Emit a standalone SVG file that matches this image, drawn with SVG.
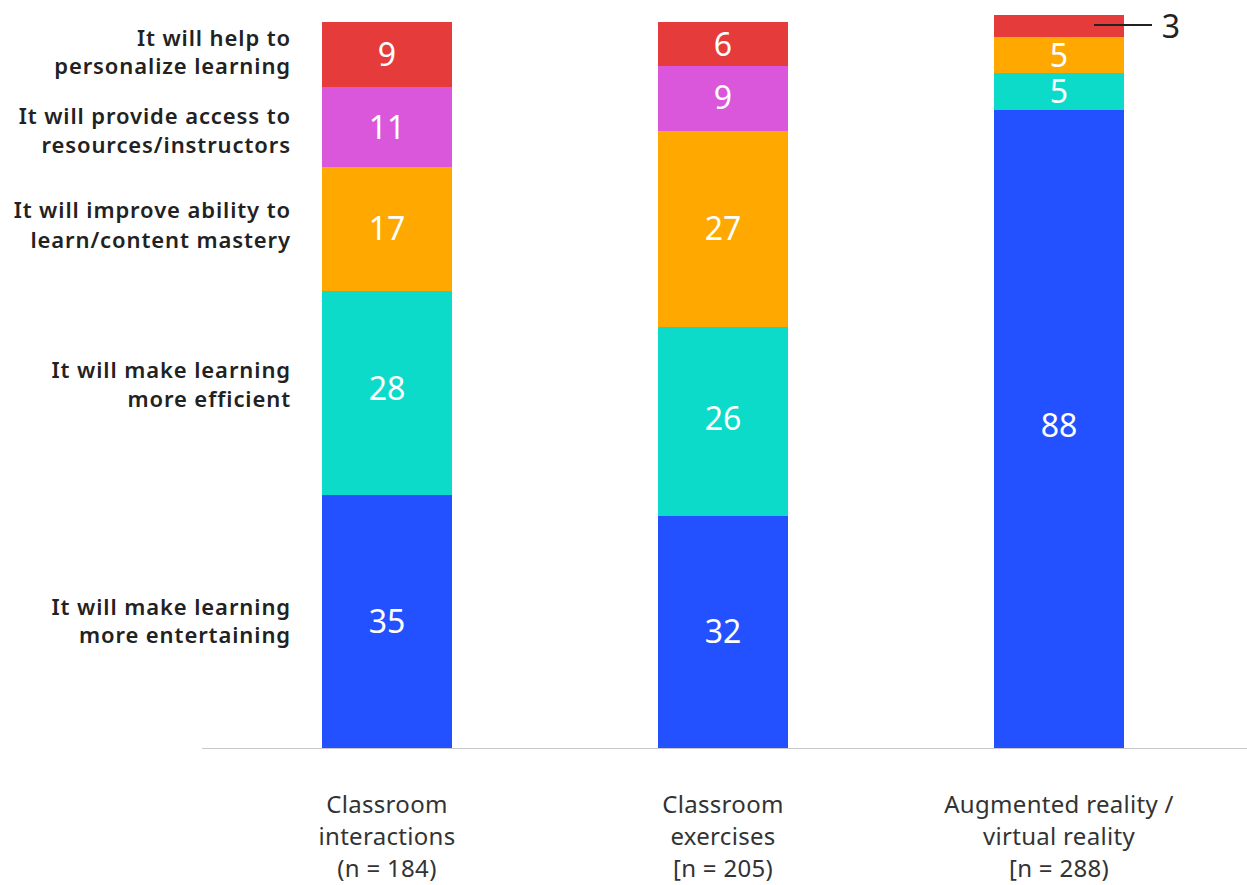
<svg xmlns="http://www.w3.org/2000/svg" width="1247" height="885" viewBox="0 0 1247 885">
<style>
.leg{font-family:"Noto Sans","Open Sans",sans-serif;font-weight:600;font-size:22px;letter-spacing:0.9px;fill:#222;text-anchor:end}
.val{font-family:"Noto Sans","Open Sans",sans-serif;font-size:32px;fill:#fff;text-anchor:middle}
.cat{font-family:"Noto Sans","Open Sans",sans-serif;font-size:24px;letter-spacing:0.3px;fill:#333;text-anchor:middle}
.r{fill:#E53B3B}.m{fill:#DA56DB}.o{fill:#FFA800}.t{fill:#0CDBC9}.b{fill:#2451FF}
</style>
<rect width="1247" height="885" fill="#fff"/>
<g id="legend">
<text class="leg" x="291" y="46">It will help to</text>
<text class="leg" x="291" y="74">personalize learning</text>
<text class="leg" x="291" y="124">It will provide access to</text>
<text class="leg" x="291" y="153">resources/instructors</text>
<text class="leg" x="291" y="218">It will improve ability to</text>
<text class="leg" x="291" y="248">learn/content mastery</text>
<text class="leg" x="291" y="378">It will make learning</text>
<text class="leg" x="291" y="407">more efficient</text>
<text class="leg" x="291" y="615">It will make learning</text>
<text class="leg" x="291" y="643">more entertaining</text>
</g>
<g id="bar1">
<rect class="r" x="322" y="22" width="130" height="65"/>
<rect class="m" x="322" y="87" width="130" height="80"/>
<rect class="o" x="322" y="167" width="130" height="124"/>
<rect class="t" x="322" y="291" width="130" height="204"/>
<rect class="b" x="322" y="495" width="130" height="253"/>
<text class="val" x="387" y="66">9</text>
<text class="val" x="387" y="139">11</text>
<text class="val" x="387" y="240">17</text>
<text class="val" x="387" y="400">28</text>
<text class="val" x="387" y="633">35</text>
</g>
<g id="bar2">
<rect class="r" x="658" y="22" width="130" height="44"/>
<rect class="m" x="658" y="66" width="130" height="65"/>
<rect class="o" x="658" y="131" width="130" height="196"/>
<rect class="t" x="658" y="327" width="130" height="189"/>
<rect class="b" x="658" y="516" width="130" height="232"/>
<text class="val" x="723" y="56">6</text>
<text class="val" x="723" y="109">9</text>
<text class="val" x="723" y="240">27</text>
<text class="val" x="723" y="430">26</text>
<text class="val" x="723" y="643">32</text>
</g>
<g id="bar3">
<rect class="r" x="994" y="15" width="130" height="22"/>
<rect class="o" x="994" y="37" width="130" height="36"/>
<rect class="t" x="994" y="73" width="130" height="37"/>
<rect class="b" x="994" y="110" width="130" height="638"/>
<text class="val" x="1059" y="67">5</text>
<text class="val" x="1059" y="103">5</text>
<text class="val" x="1059" y="437">88</text>
<text class="val" x="1171" y="38" style="fill:#222">3</text>
</g>
<g id="connectors">
<line x1="1094" y1="25" x2="1152" y2="25" stroke="#222" stroke-width="2"/>
<line x1="202" y1="748.5" x2="1247" y2="748.5" stroke="#c8c8c8" stroke-width="1"/>
</g>
<g id="categories">
<text class="cat" x="387" y="813">Classroom</text>
<text class="cat" x="387" y="845">interactions</text>
<text class="cat" x="387" y="877">(n = 184)</text>
<text class="cat" x="723" y="813">Classroom</text>
<text class="cat" x="723" y="845">exercises</text>
<text class="cat" x="723" y="877">[n = 205)</text>
<text class="cat" x="1059" y="813">Augmented reality /</text>
<text class="cat" x="1059" y="845">virtual reality</text>
<text class="cat" x="1059" y="877">[n = 288)</text>
</g>
</svg>
